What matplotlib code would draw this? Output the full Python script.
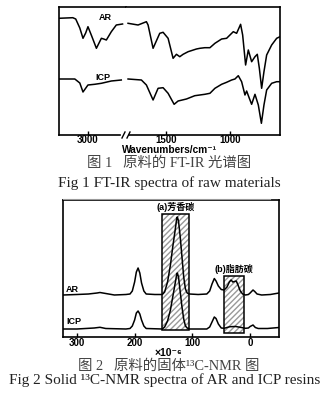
import numpy as np
import matplotlib
matplotlib.use("Agg")
import matplotlib.pyplot as plt
from matplotlib.patches import Rectangle
from matplotlib.lines import Line2D

# ---- FT-IR data (wavenumber, relative transmittance) ----
ir_ar_left_x = [3226, 3117, 3094, 3062, 3037, 3016, 2998, 2969, 2932, 2893, 2875, 2854, 2815, 2776, 2727]
ir_ar_left_y = [116.7, 117.3, 116, 107, 96.7, 102, 108.3, 99, 86.7, 96.7, 96, 95, 103.3, 110, 111]
ir_ar_right_x = [1794, 1716, 1651, 1638, 1599, 1547, 1521, 1482, 1443, 1417, 1391, 1365, 1326, 1261,
                 1234, 1196, 1156, 1117, 1065, 1026, 1000, 974, 948, 917, 901, 878, 857, 831, 805,
                 787, 771, 753, 735, 714, 675, 636, 610]
ir_ar_right_y = [111.7, 110, 113.3, 110, 86.7, 101.7, 102.7, 96.7, 76.7, 80.7, 78.3, 80.7, 83.3, 86,
                 86.7, 87.3, 87.3, 91.7, 96, 96.7, 100, 103.3, 101.7, 110.7, 100, 70, 85, 73.3, 78.3,
                 80.7, 66.7, 46.7, 63.3, 80, 90, 96.7, 98.3]
ir_icp_left_x = [3226, 3101, 3062, 3037, 2998, 2946, 2893, 2815, 2737]
ir_icp_left_y = [56, 56, 52, 43, 50, 50.7, 51.7, 54, 55]
ir_icp_right_x = [1794, 1690, 1651, 1599, 1560, 1521, 1482, 1435, 1404, 1339, 1274, 1196, 1156, 1117,
                  1065, 1026, 987, 961, 935, 909, 883, 870, 849, 831, 805, 779, 755, 735, 714, 675,
                  636, 610]
ir_icp_right_y = [56, 55, 50, 35, 46.7, 47.3, 41.7, 30.7, 34, 36, 39.3, 40.7, 41.7, 46.7,
                  50.7, 52.7, 55, 56, 59.3, 53.3, 40, 44, 36.7, 30.7, 40.7, 30, 11.7, 30, 45, 51.7,
                  53.3, 53.3]

# ---- 13C-NMR data (ppm, intensity) ----
nmr_ar_x = [324, 300, 280, 265, 260, 250, 235, 215, 208, 204, 200, 197, 194, 191, 188, 184, 180, 165,
            152, 148, 143, 138, 134, 130, 127, 126, 124, 121, 118, 115, 112, 109, 105, 90, 75, 70,
            66, 62, 59, 55, 50, 45, 40, 36, 33, 30, 27, 24, 21, 17, 13, 8, 3, 0, -5, -8, -12, -20,
            -35, -50]
nmr_ar_y = [42, 42.5, 43, 44, 44.5, 43.5, 42, 42.5, 43, 46, 55, 65, 69, 64, 54, 46, 43, 42.5,
            42.5, 45, 55, 72, 90, 106, 119, 120, 116, 100, 80, 60, 48, 44, 43, 42.5, 43, 46,
            53, 58.5, 56, 51, 47.5, 47, 50, 55, 57, 55, 55.5, 56, 52, 46, 43, 42, 42.5, 44, 47,
            45.5, 43, 42, 42.5, 44]
nmr_icp_x = [324, 300, 270, 260, 250, 215, 208, 204, 200, 197, 194, 191, 188, 184, 180, 152, 148, 143,
             138, 134, 130, 127, 126, 124, 121, 118, 115, 112, 109, 105, 90, 75, 70, 66, 62, 59, 55,
             50, 45, 35, 25, 15, 8, 3, 0, -5, -9, -14, -30, -50]
nmr_icp_y = [8, 8, 9, 9.7, 8.5, 8, 8.5, 11, 17, 24, 26, 23, 17, 11, 8.5, 8, 10, 16,
             27, 40, 53, 63, 64, 60, 45, 30, 18, 11, 9, 8, 8, 8, 10, 15, 20, 18.5, 13,
             9, 8.7, 10.3, 10.5, 9.5, 8.7, 9, 10.5, 12, 9.5, 8.5, 8.5, 9.5]
regions = ['(a)芳香碳', '(b)脂肪碳']
region_ppm = [(152, 106), (45, 10)]
region_h = [(7, 123), (3.7, 61)]

W, H = 333, 401
fig = plt.figure(figsize=(W / 100, H / 100), dpi=100)

def fx(px):
    return px / W

def fy(py):
    return (H - py) / H

sans = ['Liberation Sans', 'Noto Sans CJK SC', 'DejaVu Sans']
serif = ['Liberation Serif', 'Noto Sans CJK SC', 'DejaVu Serif']

# ---------- Fig 1 : FT-IR with broken axis ----------
axL = fig.add_axes([fx(59), fy(135), fx(126) - fx(59), fy(7) - fy(135)])
axR = fig.add_axes([fx(126), fy(135), fx(280) - fx(126), fy(7) - fy(135)])
axL.plot(ir_ar_left_x, ir_ar_left_y, color='k', lw=1.1)
axL.plot(ir_icp_left_x, ir_icp_left_y, color='k', lw=1.1)
axR.plot(ir_ar_right_x, ir_ar_right_y, color='k', lw=1.1)
axR.plot(ir_icp_right_x, ir_icp_right_y, color='k', lw=1.1)
axL.set_xlim(3225, 2700)
axR.set_xlim(1810, 610)
for a in (axL, axR):
    a.set_ylim(0, 128)
    a.set_yticks([])
    a.tick_params(axis='x', direction='in', length=3, width=1, pad=0.3, labelsize=7)
    for s in a.spines.values():
        s.set_linewidth(1.2)
axL.set_xticks([3000])
axL.set_xticklabels(['3000'], fontweight='bold', family=sans)
axR.set_xticks([1500, 1000])
axR.set_xticklabels(['1500', '1000'], fontweight='bold', family=sans)
axL.spines['right'].set_visible(False)
axR.spines['left'].set_visible(False)
axL.spines['bottom'].set_bounds(3225, 2745)
axR.spines['bottom'].set_bounds(1785, 610)
# break marks
for bx in (123.5, 128.5):
    fig.add_artist(Line2D([fx(bx - 1.5), fx(bx + 1.5)], [fy(138), fy(132)], color='k', lw=1))
axL.text(2860, 117, 'AR', fontsize=6.5, fontweight='bold', family=sans, ha='center', va='center')
axL.text(2880, 57, 'ICP', fontsize=6.5, fontweight='bold', family=sans, ha='center', va='center')

fig.text(fx(169), fy(149.5), 'Wavenumbers/cm⁻¹', ha='center', va='center', fontsize=7.3,
         fontweight='bold', family=sans)
fig.text(fx(169), fy(163.5), '图 1   原料的 FT-IR 光谱图', ha='center', va='center', fontsize=10.4,
         family=serif, color='#444444')
fig.text(fx(169), fy(183), 'Fig 1 FT-IR spectra of raw materials', ha='center', va='center',
         fontsize=11, family=serif, color='#222222')
fig.add_artist(Line2D([fx(63), fx(270)], [fy(199), fy(199)], color='#999999', lw=0.8))

# ---------- Fig 2 : 13C-NMR ----------
ax2 = fig.add_axes([fx(63), fy(337), fx(279) - fx(63), fy(200) - fy(337)])
for name, (p0, p1), (h0, h1) in zip(regions, region_ppm, region_h):
    ax2.add_patch(Rectangle((p1, h0), p0 - p1, h1 - h0, facecolor='white', edgecolor='#999999',
                            hatch='//////', lw=0, zorder=1))
    ax2.add_patch(Rectangle((p1, h0), p0 - p1, h1 - h0, facecolor='none', edgecolor='k',
                            lw=1.1, zorder=3))
    ax2.text((p0 + p1) / 2, h1 + 1.5, name, ha='center', va='bottom', fontsize=6.5,
             fontweight='bold', family=sans)
ax2.plot(nmr_ar_x, nmr_ar_y, color='k', lw=1.1, zorder=2)
ax2.plot(nmr_icp_x, nmr_icp_y, color='k', lw=1.1, zorder=2)
ax2.set_xlim(324, -50)
ax2.set_ylim(0, 137)
ax2.set_yticks([])
ax2.set_xticks([300, 200, 100, 0])
ax2.set_xticklabels(['300', '200', '100', '0'], fontweight='bold', family=sans)
ax2.tick_params(axis='x', direction='in', length=3, width=1, pad=0.5, labelsize=7)
for s in ax2.spines.values():
    s.set_linewidth(1.2)
ax2.text(308, 48, 'AR', fontsize=6.5, fontweight='bold', family=sans, ha='center', va='center')
ax2.text(305, 16, 'ICP', fontsize=6.5, fontweight='bold', family=sans, ha='center', va='center')

fig.text(fx(168), fy(353), '×10⁻⁶', ha='center', va='center', fontsize=7.5,
         fontweight='bold', family=sans)
fig.text(fx(169), fy(366), '图 2   原料的固体¹³C-NMR 图', ha='center', va='center', fontsize=10.4,
         family=serif, color='#444444')
fig.text(fx(165), fy(380), 'Fig 2 Solid ¹³C-NMR spectra of AR and ICP resins', ha='center',
         va='center', fontsize=11, family=serif, color='#222222')

fig.savefig('out.png', dpi=100)
